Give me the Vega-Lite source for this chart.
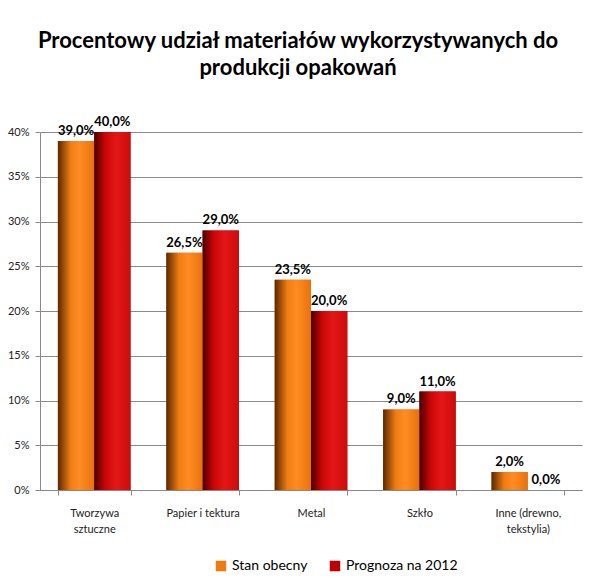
{
  "$schema": "https://vega.github.io/schema/vega-lite/v6.json",
  "width": 542,
  "height": 358,
  "autosize": {"type": "none"},
  "padding": {"left": 40, "top": 132, "right": 18, "bottom": 94},
  "background": "white",
  "title": {
    "text": ["Procentowy udział materiałów wykorzystywanych do", "produkcji opakowań"],
    "font": "Lato",
    "fontSize": 22,
    "fontWeight": "bold",
    "color": "#000000",
    "lineHeight": 27,
    "anchor": "middle",
    "dx": -13,
    "offset": 36
  },
  "config": {
    "locale": {"number": {"decimal": ",", "thousands": " ", "grouping": [3], "currency": ["", " zł"]}},
    "view": {"stroke": null},
    "font": "Lato"
  },
  "data": {
    "values": [
      {"kategoria": "Tworzywa sztuczne", "seria": "Stan obecny", "udzial": 0.39},
      {"kategoria": "Tworzywa sztuczne", "seria": "Prognoza na 2012", "udzial": 0.40},
      {"kategoria": "Papier i tektura", "seria": "Stan obecny", "udzial": 0.265},
      {"kategoria": "Papier i tektura", "seria": "Prognoza na 2012", "udzial": 0.29},
      {"kategoria": "Metal", "seria": "Stan obecny", "udzial": 0.235},
      {"kategoria": "Metal", "seria": "Prognoza na 2012", "udzial": 0.20},
      {"kategoria": "Szkło", "seria": "Stan obecny", "udzial": 0.09},
      {"kategoria": "Szkło", "seria": "Prognoza na 2012", "udzial": 0.11},
      {"kategoria": "Inne (drewno, tekstylia)", "seria": "Stan obecny", "udzial": 0.02},
      {"kategoria": "Inne (drewno, tekstylia)", "seria": "Prognoza na 2012", "udzial": 0.0}
    ]
  },
  "encoding": {
    "x": {
      "field": "kategoria",
      "type": "nominal",
      "sort": null,
      "title": null,
      "scale": {"paddingInner": 0.33, "paddingOuter": 0.165},
      "axis": {
        "labelAngle": 0,
        "labelFont": "Lato",
        "labelFontSize": 11,
        "labelColor": "#222222",
        "labelPadding": 12,
        "labelLineHeight": 16,
        "labelExpr": "datum.label == 'Tworzywa sztuczne' ? ['Tworzywa', 'sztuczne'] : datum.label == 'Inne (drewno, tekstylia)' ? ['Inne (drewno,', 'tekstylia)'] : datum.label",
        "tickBand": "extent",
        "tickColor": "#888888",
        "tickSize": 5,
        "domainColor": "#888888"
      }
    },
    "xOffset": {"field": "seria", "type": "nominal", "sort": ["Stan obecny", "Prognoza na 2012"]},
    "y": {
      "field": "udzial",
      "type": "quantitative",
      "title": null,
      "scale": {"domain": [0, 0.4], "nice": false},
      "axis": {
        "values": [0, 0.05, 0.1, 0.15, 0.2, 0.25, 0.3, 0.35, 0.4],
        "format": ".0%",
        "labelFont": "Lato",
        "labelFontSize": 11,
        "labelColor": "#222222",
        "labelPadding": 6,
        "grid": true,
        "gridColor": "#8a8a8a",
        "tickColor": "#8a8a8a",
        "tickSize": 5,
        "domainColor": "#8a8a8a"
      }
    }
  },
  "layer": [
    {
      "mark": {"type": "bar"},
      "encoding": {
        "color": {
          "field": "seria",
          "type": "nominal",
          "sort": ["Stan obecny", "Prognoza na 2012"],
          "scale": {"domain": ["Stan obecny", "Prognoza na 2012"], "range": ["#f07a12", "#c00000"]},
          "legend": {
            "title": null,
            "orient": "none",
            "direction": "horizontal",
            "legendX": 174,
            "legendY": 427,
            "symbolType": "square",
            "symbolSize": 110,
            "symbolOpacity": 1,
            "symbolStrokeWidth": 0,
            "labelFont": "Lato",
            "labelFontSize": 14,
            "labelColor": "#000000",
            "columnPadding": 20
          }
        }
      }
    },
    {
      "mark": {"type": "bar"},
      "encoding": {
        "fill": {
          "condition": {
            "test": "datum.seria == 'Stan obecny'",
            "value": {
              "gradient": "linear", "x1": 0, "y1": 0, "x2": 1, "y2": 0,
              "stops": [
                {"offset": 0, "color": "#5a2800"},
                {"offset": 0.35, "color": "#f07c14"},
                {"offset": 0.6, "color": "#ff8c22"},
                {"offset": 1, "color": "#e8720e"}
              ]
            }
          },
          "value": {
            "gradient": "linear", "x1": 0, "y1": 0, "x2": 1, "y2": 0,
            "stops": [
              {"offset": 0, "color": "#4a0000"},
              {"offset": 0.3, "color": "#c80606"},
              {"offset": 0.6, "color": "#e41616"},
              {"offset": 1, "color": "#cc0c0c"}
            ]
          }
        }
      }
    },
    {
      "mark": {"type": "text", "baseline": "bottom", "dy": -3, "font": "Lato", "fontSize": 13, "fontWeight": "bold", "color": "#000000"},
      "encoding": {
        "text": {"field": "udzial", "type": "quantitative", "format": ".1%"}
      }
    }
  ]
}
